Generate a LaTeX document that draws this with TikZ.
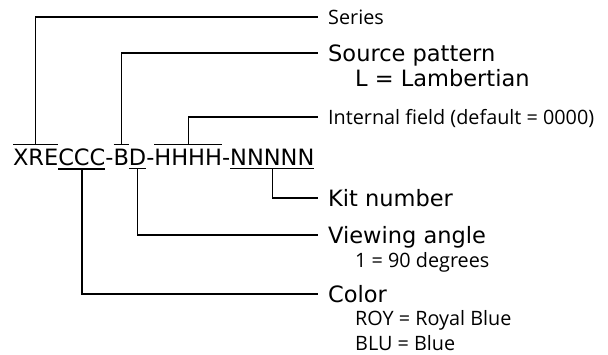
\documentclass[tikz,border=0pt]{standalone}
\usepackage{fontspec}
\setmainfont{DejaVu Sans}
\newfontfamily\noteface{Open Sans}
\newcommand{\codefont}{\fontsize{22.5}{27}\selectfont}
\newcommand{\notefont}{\noteface\fontsize{19.8}{24}\selectfont}
\tikzset{
  code part/.style={anchor=base west,inner sep=0pt,outer sep=0pt,font=\codefont},
  field label/.style={anchor=west,inner sep=0pt,font=\codefont,
    text height=16.4pt,text depth=0pt},
  field note/.style={anchor=west,inner sep=0pt,font=\notefont,
    text height=14.1pt,text depth=0pt},
  sub label/.style={anchor=base west,inner sep=0pt,font=\codefont},
  sub note/.style={anchor=base west,inner sep=0pt,font=\notefont},
  field leader/.style={draw=black,line width=1.4pt}
}

\begin{document}
\begin{tikzpicture}[x=1pt,y=-1pt]
  \useasboundingbox (0,0) rectangle (608,354);
  % part number
  \node[code part] (xre) at (13,165) {XRE};
  \node[code part] (ccc) at (xre.base east) {CCC};
  \node[code part] (dasha) at (ccc.base east) {-};
  \node[code part] (b) at (dasha.base east) {B};
  \node[code part] (d) at (b.base east) {D};
  \node[code part] (dashb) at (d.base east) {-};
  \node[code part] (hhhh) at (dashb.base east) {HHHH};
  \node[code part] (dashc) at (hhhh.base east) {-};
  \node[code part] (nnnnn) at (dashc.base east) {NNNNN};
  % fields
  \node[field note] (series) at (328,17) {Series};
  \node[field label] (source) at (328,53) {Source pattern};
  \node[sub label] (lambert) at (355,86) {L = Lambertian};
  \node[field note] (internal) at (328,117) {Internal field (default = 0000)};
  \node[field label] (kit) at (328,198) {Kit number};
  \node[field label] (viewing) at (328,235) {Viewing angle};
  \node[sub note] (degrees) at (355,267) {1 = 90 degrees};
  \node[field label] (color) at (328,294) {Color};
  \node[sub note] (royal) at (355,325) {ROY = Royal Blue};
  \node[sub note] (blue) at (355,350) {BLU = Blue};
  % bars over and under the parts
  \draw[field leader] ([yshift=4pt]xre.north west) -- ([yshift=4pt]xre.north east);
  \draw[field leader] ([yshift=4pt]b.north west) -- ([yshift=4pt]b.north east);
  \draw[field leader] ([yshift=4pt]hhhh.north west) -- ([yshift=4pt]hhhh.north east);
  \draw[field leader] ([yshift=-3.5pt]ccc.south west) -- ([yshift=-3.5pt]ccc.south east);
  \draw[field leader] ([yshift=-3.5pt]d.south west) -- ([yshift=-3.5pt]d.south east);
  \draw[field leader] ([yshift=-3.5pt]nnnnn.south west) -- ([yshift=-3.5pt]nnnnn.south east);
  % leaders
  \draw[field leader] ([yshift=4pt]xre.north) |- ([xshift=-10pt]series.west);
  \draw[field leader] ([yshift=4pt]b.north) |- ([xshift=-10pt]source.west);
  \draw[field leader] ([yshift=4pt]hhhh.north) |- ([xshift=-10pt]internal.west);
  \draw[field leader] ([yshift=-3.5pt]nnnnn.south) |- ([xshift=-10pt]kit.west);
  \draw[field leader] ([yshift=-3.5pt]d.south) |- ([xshift=-10pt]viewing.west);
  \draw[field leader] ([yshift=-3.5pt]ccc.south) |- ([xshift=-10pt]color.west);
\end{tikzpicture}
\end{document}
